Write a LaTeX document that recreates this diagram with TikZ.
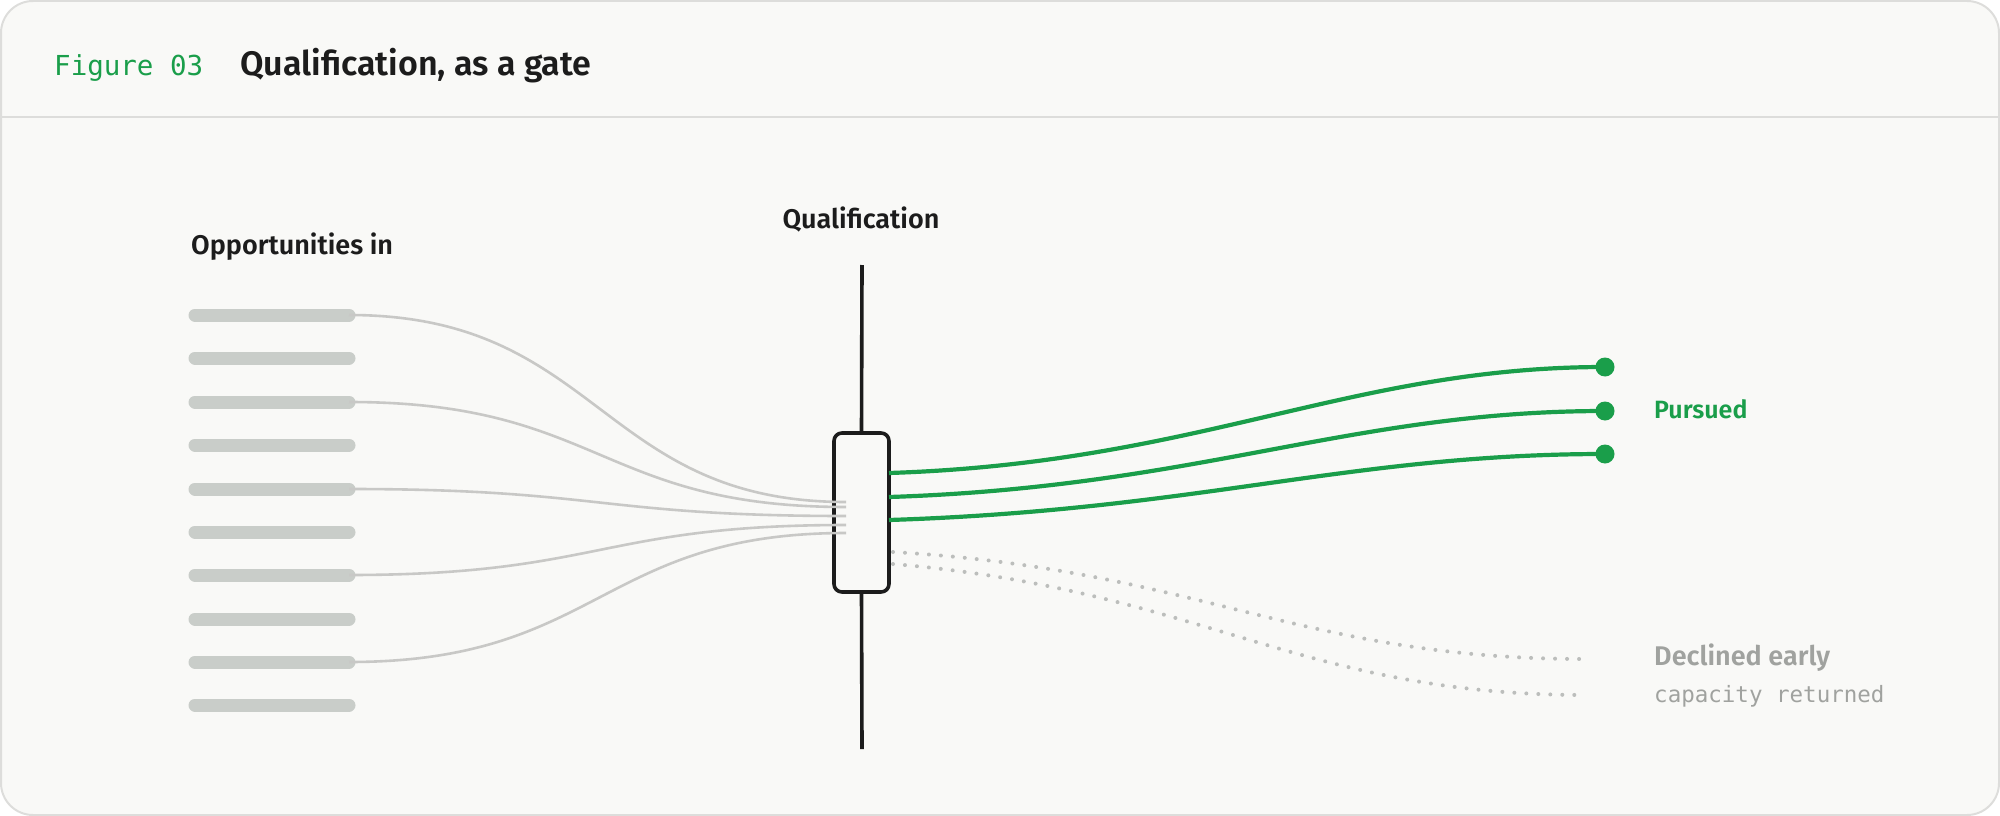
\documentclass[tikz,border=0pt]{standalone}
\usepackage{fontspec}
\setmainfont{Fira Sans}
\newfontfamily\monof{DejaVu Sans Mono}
\newfontfamily\medf{Fira Sans SemiBold}
\begin{document}
\definecolor{gr}{HTML}{1A9E4A}
\definecolor{bar}{HTML}{C9CDC9}
\definecolor{cur}{HTML}{C8C8C6}
\definecolor{bg}{HTML}{F9F9F7}
\definecolor{bd}{HTML}{DDDDDB}
\definecolor{ink}{HTML}{1C1C1C}
\definecolor{muted}{HTML}{A0A29F}
\begin{tikzpicture}[x=1pt,y=-1pt,
  barS/.style={bar,line width=13pt,line cap=round},
  inS/.style={cur,line width=2.6pt},
  outS/.style={gr,line width=4.2pt},
  decS/.style={muted!70,line width=4pt,dash pattern=on 0pt off 12pt,line cap=round},
  lab/.style={anchor=west,inner sep=0pt}]
\useasboundingbox (0,0) rectangle (2000,816);
\draw[bd,fill=bg,line width=2pt,rounded corners=32pt] (1,1) rectangle (1999,815);
\draw[bd,line width=2pt] (1,117) -- (1999,117);
\node[lab,gr,font=\monof\fontsize{27.5}{32}\selectfont] (fig) at (54,68) {Figure 03};
\node[lab,ink,font=\medf\fontsize{34}{40}\selectfont] (title) at (240,66) {Qualification, as a gate};
\node[lab,ink,font=\medf\fontsize{27}{32}\selectfont] (opp) at (191,247) {Opportunities in};
\node[ink,font=\medf\fontsize{27}{32}\selectfont] (qual) at (861,219) {Qualification};
% bars
\foreach \i/\y in {1/315,2/358,3/402,4/445,5/489,6/532,7/575,8/619,9/662,10/705}{
  \coordinate (bl\i) at (195,\y); \coordinate (br\i) at (349,\y);
  \draw[barS] (bl\i) -- (br\i);}
% gate
\coordinate (gt) at (862,265); \coordinate (gb) at (862,749);
\node[draw=ink,line width=3.6pt,rounded corners=8pt,minimum width=55pt,minimum height=159pt,inner sep=0pt,fill=bg] (gate) at (861.5,512.5) {};
\draw[ink,line width=3.6pt] (gt) -- (gate.north);
\draw[ink,line width=3.6pt] (gate.south) -- (gb);
% inputs
\foreach \i/\y in {1/502,3/507,5/516,7/525,9/533}{
  \coordinate (e\i) at (846,\y);
  \draw[inS] (br\i) .. controls (600,0|-br\i) and (600,\y) .. (e\i);}
% outputs
\foreach \k/\a/\b in {1/473/367,2/497/411,3/520/454}{
  \coordinate (o\k) at (889,\a);
  \node[circle,fill=gr,minimum size=19pt,inner sep=0pt] (d\k) at (1605,\b) {};
  \draw[outS] (o\k) .. controls (1200,\a-10) and (1350,\b) .. (d\k.center);}
\node[lab,gr,font=\medf\fontsize{25}{30}\selectfont] (pur) at (1654,409) {Pursued};
% declined
\coordinate (x1) at (893,552); \coordinate (x2) at (893,564);
\coordinate (y1) at (1585,659); \coordinate (y2) at (1585,695);
\draw[decS] (x1) .. controls (1200,570) and (1300,659) .. (y1);
\draw[decS] (x2) .. controls (1200,590) and (1300,695) .. (y2);
\node[lab,muted,font=\medf\fontsize{27}{32}\selectfont] (dec) at (1654,658) {Declined early};
\node[lab,muted,font=\monof\fontsize{22.5}{27}\selectfont] (cap) at (1654,696) {capacity returned};
\end{tikzpicture}
\end{document}
